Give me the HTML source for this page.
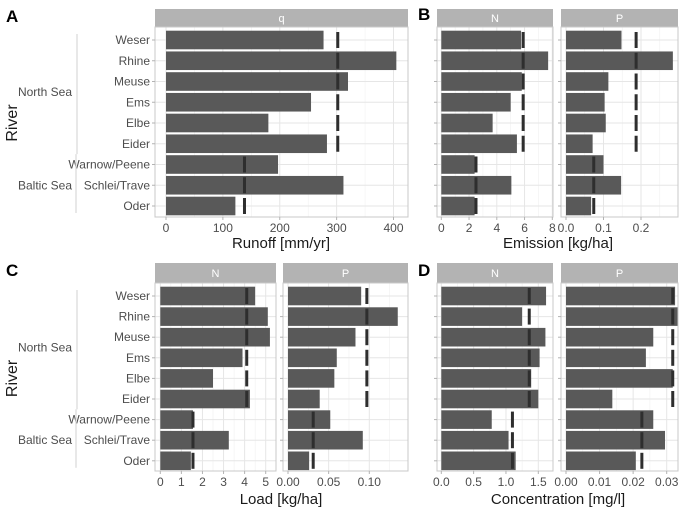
<!DOCTYPE html>
<html><head><meta charset="utf-8"><style>
body{margin:0;background:#fff;}
svg{display:block;font-family:"Liberation Sans",Arial,sans-serif;}
</style></head><body>
<svg id="c" width="685" height="513"></svg>
<script>
const rivers=["Weser","Rhine","Meuse","Ems","Elbe","Eider","Warnow/Peene","Schlei/Trave","Oder"];
const seaOfRiver=["North","North","North","North","North","North","Baltic","Baltic","Baltic"];
const runoffQ=[277,405,320,255,180,283,197,312,122];
const runoffRef=[302,138];
const emisN=[5.75,7.7,5.8,5.0,3.7,5.45,2.4,5.05,2.4];
const emisNRef=[5.9,2.5];
const emisP=[0.148,0.285,0.113,0.103,0.106,0.071,0.100,0.147,0.067];
const emisPRef=[0.187,0.074];
const loadN=[4.5,5.1,5.2,3.9,2.5,4.25,1.55,3.25,1.45];
const loadNRef=[4.1,1.55];
const loadP=[0.090,0.135,0.083,0.060,0.057,0.039,0.052,0.092,0.026];
const loadPRef=[0.097,0.031];
const concN=[1.62,1.25,1.61,1.52,1.39,1.50,0.78,1.04,1.15];
const concNRef=[1.36,1.10];
const concP=[0.0325,0.0333,0.026,0.0238,0.0318,0.0138,0.026,0.0295,0.0208];
const concPRef=[0.0318,0.0226];
const ticksQ=[0,100,200,300,400];
const ticksEN=[0,2,4,6,8];
const ticksEP=[0,0.1,0.2];
const ticksLN=[0,1,2,3,4,5];
const ticksLP=[0,0.05,0.10];
const ticksCN=[0,0.5,1.0,1.5];
const ticksCP=[0,0.01,0.02,0.03];

const NS="http://www.w3.org/2000/svg";
const svg=document.getElementById('c');
function mk(tag,attrs,parent){const e=document.createElementNS(NS,tag);for(const k in attrs)e.setAttribute(k,attrs[k]);(parent||svg).appendChild(e);return e;}

function panel(o){
  const g=mk('g',{});
  
  
  const sx=v=>o.px0+(v-o.v0)*(o.px1-o.px0)/(o.v1-o.v0);
  const rowY=i=>o.rowY0+i*o.rowStep;
  const st=mk('rect',{x:o.x0,y:o.y0,width:o.x1-o.x0,height:o.yp0-o.y0,fill:'#b3b3b3'},g);
  
  
  const stt=mk('text',{x:(o.x0+o.x1)/2,y:(o.y0+o.yp0)/2+4,'text-anchor':'middle','font-size':11,fill:'#fff'},g);
  stt.textContent=o.strip;
  
  
  const tstep=o.ticks[1]-o.ticks[0];
  for(let k=0;k<o.ticks.length+1;k++){
    const v=o.ticks[0]+tstep*(k+0.5);const x=sx(v);
    if(x>o.x0&&x<o.x1)mk('line',{x1:x,x2:x,y1:o.yp0,y2:o.yp1,stroke:'#f0f0f0','stroke-width':0.6},g);
  }
  o.ticks.forEach(v=>{const x=sx(v);mk('line',{x1:x,x2:x,y1:o.yp0,y2:o.yp1,stroke:'#e6e6e6','stroke-width':1},g);});
  for(let i=0;i<9;i++)mk('line',{x1:o.x0,x2:o.x1,y1:rowY(i),y2:rowY(i),stroke:'#e6e6e6','stroke-width':1},g);
  o.vals.forEach((v,i)=>{
    const b=mk('rect',{x:sx(0),y:rowY(i)-9.3,width:sx(v)-sx(0),height:18.6,fill:'#595959'},g);
    
    
  });
  rivers.forEach((r,i)=>{
    const rv=o.refs[seaOfRiver[i]==="North"?0:1];
    const m=mk('rect',{x:sx(rv)-1.5,y:rowY(i)-8,width:3,height:16,fill:'#2e2e2e'},g);
    
    
  });
  mk('rect',{x:o.x0,y:o.yp0,width:o.x1-o.x0,height:o.yp1-o.yp0,fill:'none',stroke:'#c8c8c8','stroke-width':1},g);
  o.ticks.forEach(v=>{const x=sx(v);
    mk('line',{x1:x,x2:x,y1:o.yp1,y2:o.yp1+3,stroke:'#b3b3b3'},g);
    const t=mk('text',{x:x,y:o.yp1+15,'text-anchor':'middle','font-size':12,fill:'#4d4d4d'},g);
    t.textContent=o.fmt(v);
    
    
  });
  for(let i=0;i<9;i++)mk('line',{x1:o.x0-3,x2:o.x0,y1:rowY(i),y2:rowY(i),stroke:'#b3b3b3'},g);
  return g;
}
function yLabels(rowY0,rowStep,xr){
  rivers.forEach((r,i)=>{
    const t=mk('text',{x:xr,y:rowY0+i*rowStep+4,'text-anchor':'end','font-size':12,fill:'#4d4d4d'});
    t.textContent=r;
    
    
  });
  const split=rowY0+5.5*rowStep;
  mk('line',{x1:77,x2:77,y1:rowY0-6,y2:split,stroke:'#d9d9d9','stroke-width':1.2});
  mk('line',{x1:76,x2:76,y1:split,y2:rowY0+8*rowStep+7,stroke:'#d9d9d9','stroke-width':1.2});
  const n=mk('text',{x:72,y:rowY0+2.5*rowStep+4,'text-anchor':'end','font-size':12,fill:'#4d4d4d'});n.textContent='North Sea';
  
  const b=mk('text',{x:72,y:rowY0+7*rowStep+4,'text-anchor':'end','font-size':12,fill:'#4d4d4d'});b.textContent='Baltic Sea';
  
  const rv=mk('text',{x:0,y:0,'text-anchor':'middle','font-size':16,fill:'#1a1a1a',transform:`translate(17,${rowY0+4*rowStep}) rotate(-90)`});
  rv.textContent='River';
}
function title(x,y,s,name){const t=mk('text',{x:x,y:y,'text-anchor':'middle','font-size':15,fill:'#1a1a1a'});t.textContent=s;}
function letter(x,y,s){const t=mk('text',{x:x,y:y,'font-size':17,'font-weight':'bold',fill:'#000'});t.textContent=s;}

const f0=v=>String(v), f1=v=>v.toFixed(1), f2=v=>v.toFixed(2);
const topRow={y0:9,yp0:27,yp1:217,rowY0:40,rowStep:20.75};
const botRow={y0:263,yp0:283,yp1:471,rowY0:296,rowStep:20.6};
panel(Object.assign({name:'runoff-q',x0:155,x1:408,px0:166,v0:0,px1:393.5,v1:400,strip:'q',vals:runoffQ,refs:runoffRef,ticks:ticksQ,fmt:f0},topRow));
panel(Object.assign({name:'emission-n',x0:437,x1:553,px0:441.3,v0:0,px1:552.3,v1:8,strip:'N',vals:emisN,refs:emisNRef,ticks:ticksEN,fmt:f0},topRow));
panel(Object.assign({name:'emission-p',x0:561,x1:678,px0:566,v0:0,px1:641,v1:0.2,strip:'P',vals:emisP,refs:emisPRef,ticks:ticksEP,fmt:f1},topRow));
panel(Object.assign({name:'load-n',x0:155,x1:276,px0:160.3,v0:0,px1:265.7,v1:5,strip:'N',vals:loadN,refs:loadNRef,ticks:ticksLN,fmt:f0},botRow));
panel(Object.assign({name:'load-p',x0:283,x1:408,px0:288,v0:0,px1:369.3,v1:0.10,strip:'P',vals:loadP,refs:loadPRef,ticks:ticksLP,fmt:f2},botRow));
panel(Object.assign({name:'conc-n',x0:437,x1:553,px0:441.3,v0:0,px1:538.3,v1:1.5,strip:'N',vals:concN,refs:concNRef,ticks:ticksCN,fmt:f1},botRow));
panel(Object.assign({name:'conc-p',x0:561,x1:678,px0:566,v0:0,px1:666.7,v1:0.03,strip:'P',vals:concP,refs:concPRef,ticks:ticksCP,fmt:f2},botRow));
yLabels(topRow.rowY0,topRow.rowStep,150);
yLabels(botRow.rowY0,botRow.rowStep,150);
title(281,248,'Runoff [mm/yr]','x-axis-title-runoff');
title(558,248,'Emission [kg/ha]','x-axis-title-emission');
title(281,504,'Load [kg/ha]','x-axis-title-load');
title(558,504,'Concentration [mg/l]','x-axis-title-concentration');
letter(6,22,'A');letter(418,20,'B');letter(6,276,'C');letter(418,276,'D');
</script>
</body></html>
